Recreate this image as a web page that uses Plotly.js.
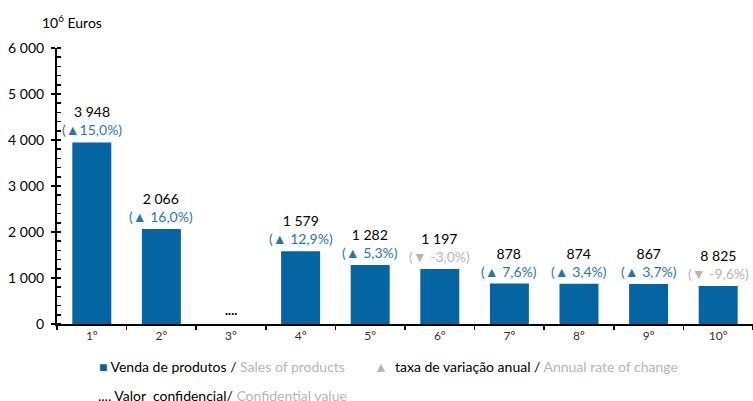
<!DOCTYPE html>
<html>
<head>
<meta charset="utf-8">
<script src="https://cdn.plot.ly/plotly-3.0.1.min.js"></script>
<style>html,body{margin:0;padding:0;background:#fff;}#chart{width:753px;height:401px;}</style>
</head>
<body>
<div id="chart"></div>
<script>
const categories = ["1º","2º","3º","4º","5º","6º","7º","8º","9º","10º"];
const sales = [3948, 2066, null, 1579, 1282, 1197, 878, 874, 867, 825];
const salesLabels = ["3 948","2 066","....","1 579","1 282","1 197","878","874","867","8 825"];
const rateLabels = ["15,0%"," 16,0%",""," 12,9%"," 5,3%"," -3,0%"," 7,6%"," 3,4%"," 3,7%"," -9,6%"];
const rateUp = [true,true,null,true,true,false,true,true,true,false];
const yTickVals = [0,1000,2000,3000,4000,5000,6000];
const yTickText = ["0","1 000","2 000","3 000","4 000","5 000","6 000"];

const BLUE = "#0565a3";
const TXTBLUE = "#1f76b8";
const GRAY = "#b5b5b5";
const FONT = "Lato, 'Open Sans', sans-serif";

const annotations = [];
categories.forEach((c, i) => {
  if (sales[i] === null) {
    annotations.push({x: c, y: 0, xref: "x", yref: "y", text: "<b>" + salesLabels[i] + "</b>",
      showarrow: false, yanchor: "bottom", yshift: 4, font: {family: FONT, size: 13, color: "#000"}});
    return;
  }
  const rate = rateUp[i]
    ? "<span style='color:" + TXTBLUE + "'>(▲" + rateLabels[i] + ")</span>"
    : "<span style='color:" + GRAY + "'>(▼" + rateLabels[i] + ")</span>";
  annotations.push({x: c, y: sales[i], xref: "x", yref: "y",
    text: salesLabels[i] + "<br>" + rate, showarrow: false, yanchor: "bottom", yshift: 2,
    font: {family: FONT, size: 14, color: "#000"}});
});

annotations.push({xref: "paper", yref: "paper", x: -0.025, y: 1.095, xanchor: "left", yanchor: "middle",
  text: "10<sup>6</sup> Euros", showarrow: false, font: {family: FONT, size: 14, color: "#000"}});
annotations.push({xref: "paper", yref: "paper", x: (97 - 57) / 696, y: (324 - 366) / 276, xanchor: "left", yanchor: "middle",
  text: "<span style='color:" + BLUE + "'>■</span> Venda de produtos / <span style='color:" + GRAY + "'>Sales of products</span>",
  showarrow: false, font: {family: FONT, size: 14, color: "#000"}});
annotations.push({xref: "paper", yref: "paper", x: (372 - 57) / 696, y: (324 - 366) / 276, xanchor: "left", yanchor: "middle",
  text: "<span style='color:" + GRAY + "'>▲</span>  taxa de variação anual / <span style='color:" + GRAY + "'>Annual rate of change</span>",
  showarrow: false, font: {family: FONT, size: 14, color: "#000"}});
annotations.push({xref: "paper", yref: "paper", x: (96 - 57) / 696, y: (324 - 395) / 276, xanchor: "left", yanchor: "middle",
  text: ".... Valor\u00a0 confidencial/ <span style='color:" + GRAY + "'>Confidential value</span>",
  showarrow: false, font: {family: FONT, size: 14, color: "#000"}});

const data = [{
  type: "bar", x: categories, y: sales, marker: {color: BLUE}, hoverinfo: "x+y", showlegend: false
}];

const layout = {
  width: 753, height: 401,
  margin: {l: 57, r: 0, t: 48, b: 77, pad: 0},
  paper_bgcolor: "#fff", plot_bgcolor: "#fff",
  bargap: 0.44,
  showlegend: false,
  font: {family: FONT, size: 14, color: "#000"},
  xaxis: {
    type: "category", showline: true, linecolor: "#000", linewidth: 2,
    ticks: "outside", tickson: "boundaries", ticklen: 4, tickwidth: 1.5, tickcolor: "#000",
    showgrid: false, zeroline: false,
    tickfont: {family: FONT, size: 12, color: "#333"}
  },
  yaxis: {
    range: [0, 6000], showline: true, linecolor: "#000", linewidth: 2,
    tickvals: yTickVals, ticktext: yTickText,
    ticks: "outside", ticklen: 4, tickwidth: 1.5, tickcolor: "#000",
    ticklabelstandoff: 4,
    minor: {ticks: "inside", dtick: 200, ticklen: 4, tickwidth: 1.5, tickcolor: "#000", showgrid: false},
    showgrid: false, zeroline: false,
    tickfont: {family: FONT, size: 14, color: "#000"}
  },
  yaxis2: {
    overlaying: "y", side: "left", range: [0, 6000], tickvals: yTickVals,
    ticks: "inside", ticklen: 4, tickwidth: 1.5, tickcolor: "#000",
    showticklabels: false, showline: false, showgrid: false, zeroline: false
  },
  annotations: annotations
};

Plotly.newPlot("chart", data, layout, {displayModeBar: false, staticPlot: true});
</script>
</body>
</html>
